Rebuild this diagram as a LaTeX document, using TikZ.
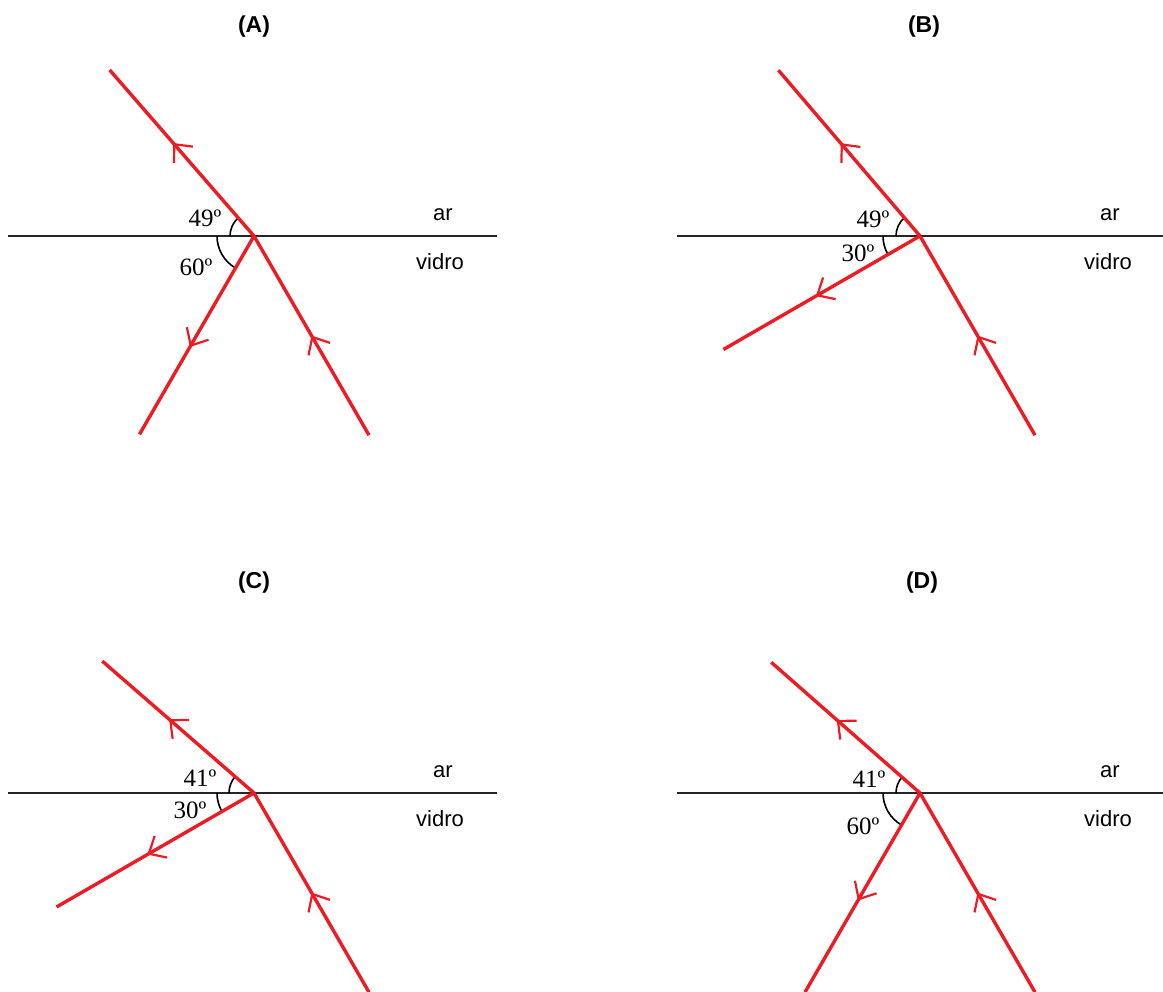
\documentclass[tikz,border=0pt]{standalone}
\usepackage{fontspec}
\setmainfont{Liberation Serif}
\setsansfont{Liberation Sans}
\usetikzlibrary{arrows.meta,decorations.markings}
\definecolor{rayred}{RGB}{237,28,36}
\begin{document}
\begin{tikzpicture}[x=1pt,y=1pt,
 surf/.style={draw=black!85, line width=1.6pt},
 ray/.style={draw=rayred, line width=3.4pt},
 midarrow/.style={postaction={decorate}, decoration={markings, mark=at position #1 with {\arrow[rayred]{Straight Barb[length=14pt,width=25pt,line width=2.2pt]}}}},
 anglearc/.style={draw=black, line width=1.6pt},
 deg/.style={font=\fontsize{25}{25}\selectfont, inner sep=0pt},
 medium/.style={font=\sffamily\fontsize{22}{22}\selectfont, inner sep=0pt},
 title/.style={font=\sffamily\bfseries\fontsize{23}{23}\selectfont, inner sep=0pt}]
\useasboundingbox (0,0) rectangle (1163,-992);

% ---------- Panel A ----------
\begin{scope}[shift={(254,-236)}]
\coordinate (Av) at (0,0);
\coordinate (Asl) at (-246,0); \coordinate (Asr) at (243,0);
\coordinate (Aup) at (131:220);
\coordinate (Ain) at (300:230);
\coordinate (Aout) at (240:229);
\draw[surf] (Asl) -- (Asr);
\draw[anglearc] (180:24) arc (180:131:24);
\draw[anglearc] (180:37) arc (180:240:37);
\draw[ray, midarrow=0.5] (Ain) -- (Av);
\draw[ray, midarrow=0.56] (Av) -- (Aup);
\draw[ray, midarrow=0.56] (Av) -- (Aout);
\node[deg] (Aa1) at (-49,18) {49º};
\node[deg] (Aa2) at (-58,-31) {60º};
\node[medium] (Aar) at (189,21) {ar};
\node[medium] (Avid) at (186,-26) {vidro};
\end{scope}
\node[title] (At) at (254,-27) {(A)};

% ---------- Panel B ----------
\begin{scope}[shift={(920,-236)}]
\coordinate (Bv) at (0,0);
\coordinate (Bsl) at (-243,0); \coordinate (Bsr) at (243,0);
\coordinate (Bup) at (130.5:218);
\coordinate (Bin) at (300:230);
\coordinate (Bout) at (210:227);
\draw[surf] (Bsl) -- (Bsr);
\draw[anglearc] (180:24) arc (180:130.5:24);
\draw[anglearc] (180:37) arc (180:210:37);
\draw[ray, midarrow=0.5] (Bin) -- (Bv);
\draw[ray, midarrow=0.56] (Bv) -- (Bup);
\draw[ray, midarrow=0.53] (Bv) -- (Bout);
\node[deg] (Ba1) at (-47,17) {49º};
\node[deg] (Ba2) at (-62,-17) {30º};
\node[medium] (Bar) at (190,21) {ar};
\node[medium] (Bvid) at (188,-26) {vidro};
\end{scope}
\node[title] (Bt) at (924,-27) {(B)};

% ---------- Panel C ----------
\begin{scope}[shift={(254,-793)}]
\coordinate (Cv) at (0,0);
\coordinate (Csl) at (-246,0); \coordinate (Csr) at (243,0);
\coordinate (Cup) at (139:201);
\coordinate (Cin) at (300:230);
\coordinate (Cout) at (210:228);
\draw[surf] (Csl) -- (Csr);
\draw[anglearc] (180:25) arc (180:139:25);
\draw[anglearc] (180:37) arc (180:210:37);
\draw[ray, midarrow=0.5] (Cin) -- (Cv);
\draw[ray, midarrow=0.56] (Cv) -- (Cup);
\draw[ray, midarrow=0.54] (Cv) -- (Cout);
\node[deg] (Ca1) at (-54,15) {41º};
\node[deg] (Ca2) at (-64,-17) {30º};
\node[medium] (Car) at (189,21) {ar};
\node[medium] (Cvid) at (186,-26) {vidro};
\end{scope}
\node[title] (Ct) at (254,-583) {(C)};

% ---------- Panel D ----------
\begin{scope}[shift={(920,-793)}]
\coordinate (Dv) at (0,0);
\coordinate (Dsl) at (-243,0); \coordinate (Dsr) at (243,0);
\coordinate (Dup) at (138.7:198);
\coordinate (Din) at (300:230);
\coordinate (Dout) at (240:230);
\draw[surf] (Dsl) -- (Dsr);
\draw[anglearc] (180:24) arc (180:138.7:24);
\draw[anglearc] (180:37) arc (180:240:37);
\draw[ray, midarrow=0.5] (Din) -- (Dv);
\draw[ray, midarrow=0.56] (Dv) -- (Dup);
\draw[ray, midarrow=0.54] (Dv) -- (Dout);
\node[deg] (Da1) at (-51,14) {41º};
\node[deg] (Da2) at (-57,-33) {60º};
\node[medium] (Dar) at (190,21) {ar};
\node[medium] (Dvid) at (188,-26) {vidro};
\end{scope}
\node[title] (Dt) at (922,-583) {(D)};
\end{tikzpicture}
\end{document}
